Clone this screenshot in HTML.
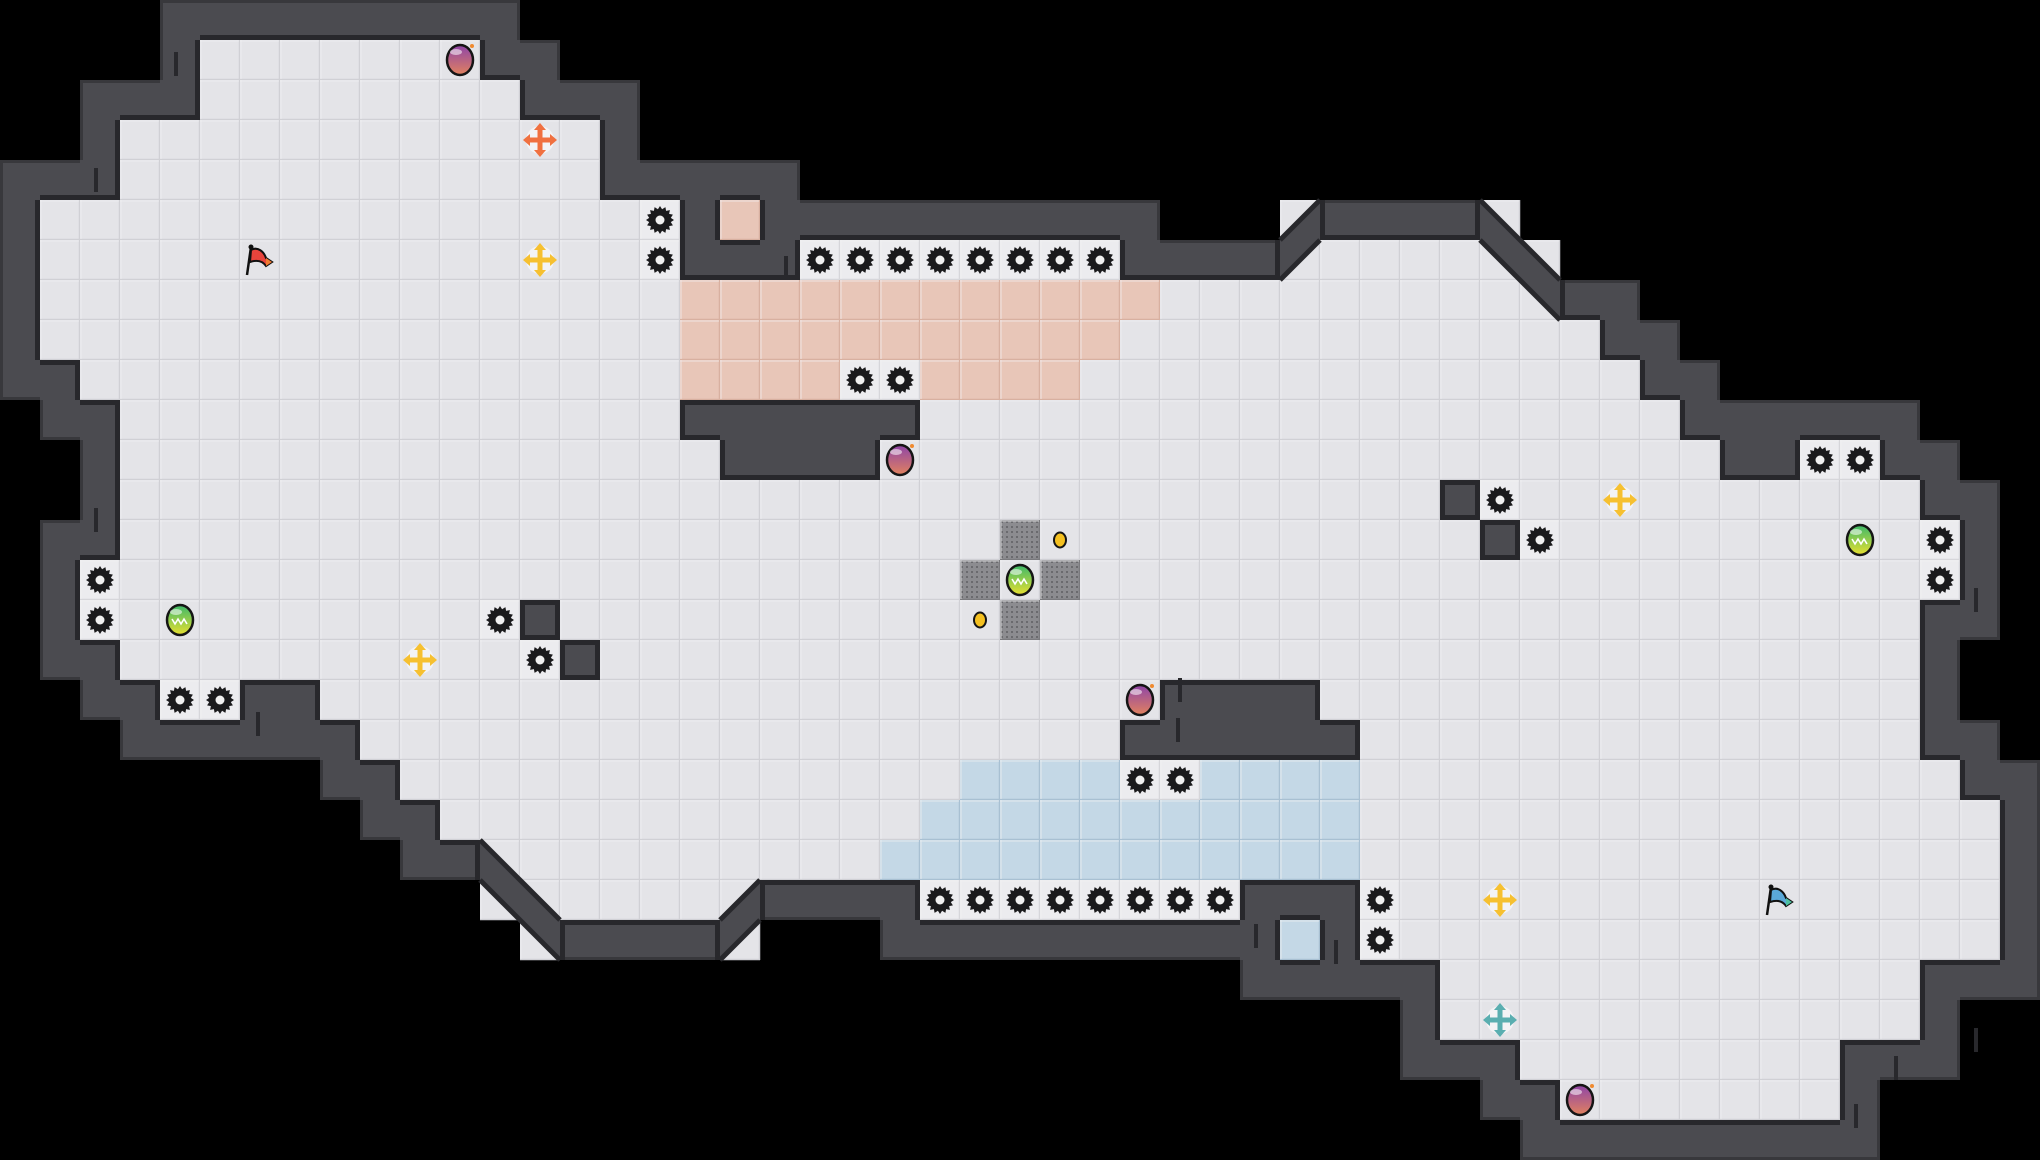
<!DOCTYPE html>
<html><head><meta charset="utf-8">
<style>
html,body{margin:0;padding:0;background:#000;}
body{width:2040px;height:1160px;overflow:hidden;}
svg{display:block;}
</style></head>
<body>
<svg id="m" width="2040" height="1160" xmlns="http://www.w3.org/2000/svg"></svg>
<script>
var C=40, COLS=51, ROWS=29;
var spec=[
[['W',4,12]],
[['W',4,4],['.',5,11],['W',12,13]],
[['W',2,4],['.',5,12],['W',13,15]],
[['W',2,2],['.',3,14],['W',15,15]],
[['W',0,2],['.',3,14],['W',15,19]],
[['W',0,0],['.',1,15],['g',16,16],['W',17,17],['S',18,18],['W',19,28],['.',32,32],['W',33,36],['.',37,37]],
[['W',0,0],['.',1,15],['g',16,16],['W',17,19],['g',20,27],['W',28,31],['.',32,38]],
[['W',0,0],['.',1,16],['S',17,28],['.',29,38],['W',39,40]],
[['W',0,0],['.',1,16],['S',17,27],['.',28,39],['W',40,41]],
[['W',0,1],['.',2,16],['S',17,20],['g',21,22],['S',23,26],['.',27,40],['W',41,42]],
[['W',1,2],['.',3,16],['W',17,22],['.',23,41],['W',42,47]],
[['W',2,2],['.',3,17],['W',18,21],['.',22,42],['W',43,44],['g',45,46],['W',47,48]],
[['W',2,2],['.',3,35],['W',36,36],['g',37,37],['.',38,47],['W',48,49]],
[['W',1,2],['.',3,36],['W',37,37],['g',38,38],['.',39,47],['g',48,48],['W',49,49],['M',25,25]],
[['W',1,1],['g',2,2],['.',3,47],['g',48,48],['W',49,49],['M',24,24],['M',26,26]],
[['W',1,1],['g',2,2],['.',3,11],['g',12,12],['W',13,13],['.',14,47],['W',48,49],['M',25,25]],
[['W',1,2],['.',3,12],['g',13,13],['W',14,14],['.',15,47],['W',48,48]],
[['W',2,3],['g',4,5],['W',6,7],['.',8,47],['W',29,32],['W',48,48]],
[['W',3,8],['.',9,27],['W',28,33],['.',34,47],['W',48,49]],
[['W',8,9],['.',10,23],['B',24,27],['g',28,29],['B',30,33],['.',34,48],['W',49,50]],
[['W',9,10],['.',11,22],['B',23,33],['.',34,49],['W',50,50]],
[['W',10,11],['.',12,21],['B',22,33],['.',34,49],['W',50,50]],
[['.',12,18],['W',19,22],['g',23,30],['W',31,33],['g',34,34],['.',35,49],['W',50,50]],
[['.',13,13],['W',14,17],['.',18,18],['W',22,31],['B',32,32],['W',33,33],['g',34,34],['.',35,49],['W',50,50]],
[['W',31,35],['.',36,47],['W',48,50]],
[['W',35,35],['.',36,47],['W',48,48]],
[['W',35,37],['.',38,45],['W',46,48]],
[['W',37,38],['.',39,45],['W',46,46]],
[['W',38,46]]
];
var G=[];
for(var r=0;r<ROWS;r++){var row=[];for(var c=0;c<COLS;c++)row.push('#');
 spec[r].forEach(function(s){for(var c=s[1];c<=s[2];c++)row[c]=s[0];});G.push(row);}
function at(c,r){if(r<0||r>=ROWS||c<0||c>=COLS)return '#';return G[r][c];}
var out=[];
out.push('<defs>'+
'<linearGradient id="pp" x1="0" y1="0" x2="0" y2="1"><stop offset="0" stop-color="#8e44a8"/><stop offset="1" stop-color="#e2825e"/></linearGradient>'+
'<linearGradient id="pg" x1="0" y1="0" x2="0" y2="1"><stop offset="0" stop-color="#3cb86a"/><stop offset="1" stop-color="#e8e030"/></linearGradient>'+
'<pattern id="dots" width="5" height="5" patternUnits="userSpaceOnUse"><rect width="5" height="5" fill="#8c8c90"/><rect x="1" y="1" width="2" height="2" fill="#6a6a6e"/></pattern>'+
'</defs>');
out.push('<rect width="2040" height="1160" fill="#000"/>');
var fillMap={'.':'#e4e4e8','g':'#ececef','S':'#e8c6b8','B':'#c4d8e6','M':'url(#dots)'};
var lineMap={'.':'#d0d0d5','g':'#d6d6da','S':'#d8b0a0','B':'#a8c0d2','M':'#7a7a7e'};
for(var r=0;r<ROWS;r++)for(var c=0;c<COLS;c++){
 var t=G[r][c],x=c*C,y=r*C;
 if(t=='#')continue;
 if(t=='W'){out.push('<rect x="'+x+'" y="'+y+'" width="40" height="40" fill="#4b4b50"/>');continue;}
 out.push('<rect x="'+x+'" y="'+y+'" width="40" height="40" fill="'+fillMap[t]+'"/>');
 out.push('<path d="M'+x+' '+(y+39.5)+'H'+(x+40)+'M'+(x+39.5)+' '+y+'V'+(y+40)+'" stroke="'+lineMap[t]+'" stroke-width="1.5"/>');
 out.push('<path d="M'+x+' '+(y+1)+'H'+(x+39)+'M'+(x+1)+' '+y+'V'+(y+39)+'" stroke="#f2f2f4" stroke-width="1" opacity="0.7"/>');
}
// wall edges
for(var r=0;r<ROWS;r++)for(var c=0;c<COLS;c++){
 if(G[r][c]!='W')continue;var x=c*C,y=r*C;
 var nb=[[0,-1],[0,1],[-1,0],[1,0]];
 nb.forEach(function(d,i){var n=at(c+d[0],r+d[1]);if(n=='W')return;
  var w=(n=='#')?3:5,col=(n=='#')?'#38383c':'#28282c';
  var rx,ry,rw,rh;
  if(i==0){rx=x;ry=y;rw=40;rh=w;}
  if(i==1){rx=x;ry=y+40-w;rw=40;rh=w;}
  if(i==2){rx=x;ry=y;rw=w;rh=40;}
  if(i==3){rx=x+40-w;ry=y;rw=w;rh=40;}
  out.push('<rect x="'+rx+'" y="'+ry+'" width="'+rw+'" height="'+rh+'" fill="'+col+'"/>');
 });
}
// diagonal bands
function band(p,e1,e2){out.push('<polygon points="'+p+'" fill="#4b4b50"/>');
 out.push('<path d="'+e1+'" stroke="#28282c" stroke-width="5" fill="none"/>');
 out.push('<path d="'+e2+'" stroke="#28282c" stroke-width="5" fill="none"/>');}
band('1320,200 1320,240 1280,280 1280,240','M1320 200L1280 240','M1320 240L1280 280');
band('1480,200 1560,280 1560,320 1480,240','M1480 200L1560 280','M1480 240L1560 320');
band('480,840 560,920 560,960 480,880','M480 840L560 920','M480 880L560 960');
band('760,880 760,920 720,960 720,920','M760 880L720 920','M760 920L720 960');
// small notch marks
[[176,64],[96,180],[96,520],[258,724],[786,268],[1180,690],[1256,936],[1336,952],[1976,600],[1976,1040],[1896,1068],[1856,1116],[1178,730]].forEach(function(p){
 out.push('<rect x="'+(p[0]-2)+'" y="'+(p[1]-12)+'" width="4" height="24" fill="#28282c"/>');});
// gears
function gear(cx,cy){var pts=[],n=16;for(var i=0;i<2*n;i++){var a=i*Math.PI/n,rr=(i%2==0)?14:11;pts.push((cx+rr*Math.cos(a)).toFixed(1)+','+(cy+rr*Math.sin(a)).toFixed(1));}
 out.push('<polygon points="'+pts.join(' ')+'" fill="#1a1a1c"/><circle cx="'+cx+'" cy="'+cy+'" r="4.5" fill="#f0f0f0"/>');}
for(var r=0;r<ROWS;r++)for(var c=0;c<COLS;c++)if(G[r][c]=='g')gear(c*C+20,r*C+20);
function potion(c,r,grad){var cx=c*C+20,cy=r*C+20;
 out.push('<ellipse cx="'+cx+'" cy="'+cy+'" rx="13" ry="15" fill="url(#'+grad+')" stroke="#151515" stroke-width="2.5"/>');
 out.push('<ellipse cx="'+(cx-4)+'" cy="'+(cy-8)+'" rx="6" ry="3" fill="#fff" opacity="0.55"/>');
 if(grad=='pp')out.push('<circle cx="'+(cx+12)+'" cy="'+(cy-14)+'" r="2" fill="#f08a30"/>');
 else out.push('<path d="M'+(cx-8)+' '+(cy-1)+'l3 5 3-5 3 5 3-5 3 5" stroke="#fff" stroke-width="1.6" fill="none"/>');}
[[11,1],[22,11],[28,17],[39,27]].forEach(function(p){potion(p[0],p[1],'pp');});
[[25,14],[46,13],[4,15]].forEach(function(p){potion(p[0],p[1],'pg');});
function cross(c,r,col){var cx=c*C+20,cy=r*C+20;
 out.push('<circle cx="'+cx+'" cy="'+cy+'" r="14" fill="#fff" opacity="0.55"/>');
 out.push('<path d="M'+(cx-11)+' '+cy+'H'+(cx+11)+'M'+cx+' '+(cy-11)+'V'+(cy+11)+'" stroke="'+col+'" stroke-width="5"/>');
 out.push('<path d="M'+cx+' '+(cy-17)+'l-6 7h12zM'+cx+' '+(cy+17)+'l-6 -7h12zM'+(cx-17)+' '+cy+'l7 -6v12zM'+(cx+17)+' '+cy+'l-7 -6v12z" fill="'+col+'"/>');}
cross(13,3,'#f07040');
[[13,6],[40,12],[10,16],[37,22]].forEach(function(p){cross(p[0],p[1],'#f6c030');});
cross(37,25,'#5aaeb0');
function flag(c,r,col,col2){var cx=c*C+20,cy=r*C+20;
 out.push('<path d="M'+(cx-13)+' '+(cy+15)+'L'+(cx-9)+' '+(cy-13)+'" stroke="#111" stroke-width="2.5"/>');
 out.push('<circle cx="'+(cx-9)+'" cy="'+(cy-13)+'" r="2.5" fill="#111"/>');
 out.push('<path d="M'+(cx-9)+' '+(cy-10)+'C'+(cx-2)+' '+(cy-14)+' '+(cx+4)+' '+(cy-8)+' '+(cx+6)+' '+(cy-2)+'L'+(cx+12)+' '+(cy+2)+'L'+(cx+6)+' '+(cy+6)+'C'+(cx+2)+' '+(cy)+' '+(cx-4)+' '+(cy)+' '+(cx-10)+' '+(cy+2)+'Z" fill="'+col+'" stroke="#111" stroke-width="2"/>');
 out.push('<path d="M'+(cx+6)+' '+(cy-2)+'L'+(cx+12)+' '+(cy+2)+'L'+(cx+6)+' '+(cy+6)+'Z" fill="'+col2+'"/>');}
flag(6,6,'#e8443c','#f07a30');
flag(44,22,'#5aa8d8','#4cc0a0');
function coin(c,r){var cx=c*C+20,cy=r*C+20;out.push('<ellipse cx="'+cx+'" cy="'+cy+'" rx="6" ry="7.5" fill="#f4c020" stroke="#151515" stroke-width="2"/>');}
coin(26,13);coin(24,15);
document.getElementById('m').innerHTML=out.join('');
</script>
</body></html>
